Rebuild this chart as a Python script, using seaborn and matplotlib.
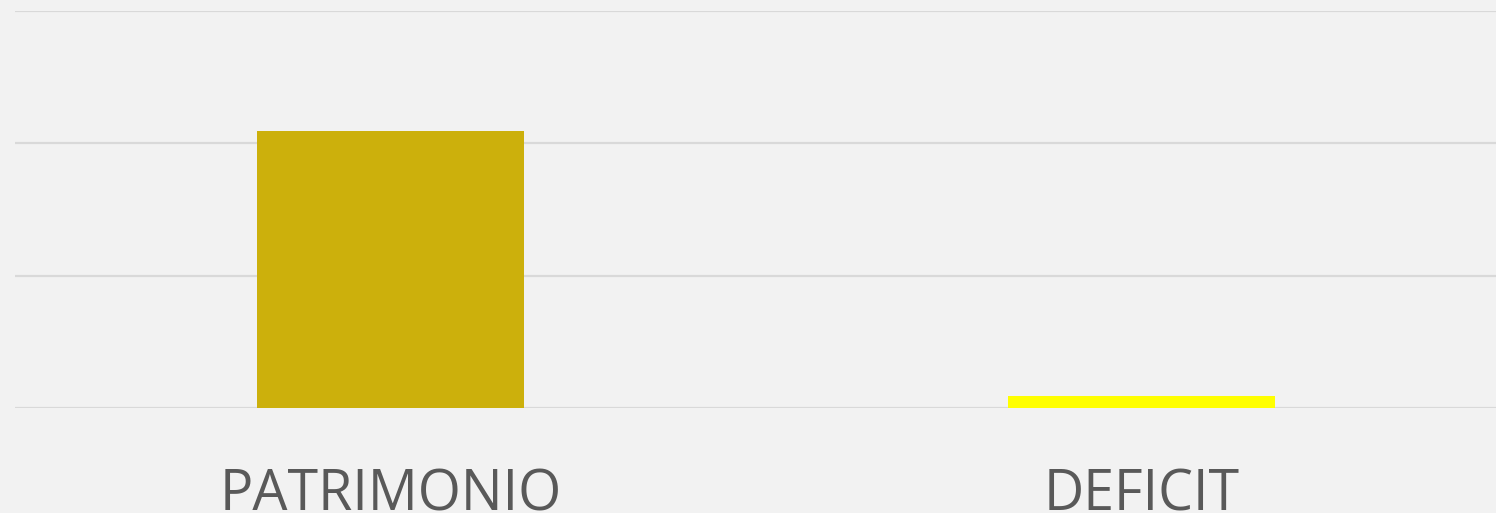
import matplotlib
matplotlib.use("Agg")
import matplotlib.pyplot as plt
import seaborn as sns
import pandas as pd

# values (gridline step = 1 unit)
categories = ["PATRIMONIO", "DEFICIT"]
values = [2.09, 0.09]
bar_colors = ["#CCB00C", "#FFFF00"]

df = pd.DataFrame({"categoria": categories, "valor": values})

sns.set_theme(style="white")
plt.rcParams["font.family"] = ["Open Sans", "DejaVu Sans"]

fig = plt.figure(figsize=(14.96, 5.13), dpi=100, facecolor="#F2F2F2")
# axes runs past the right edge, like the cropped original
ax = fig.add_axes([15 / 1496, 105 / 513, 1502 / 1496, 397 / 513])
ax.set_facecolor("#F2F2F2")

sns.barplot(data=df, x="categoria", y="valor", hue="categoria",
            palette=bar_colors, width=0.356, saturation=1, linewidth=0,
            legend=False, ax=ax)

ax.set_xlim(-0.5, 1.5)
ax.set_ylim(0, 3)
ax.set_yticks([0, 1, 2, 3])
ax.yaxis.grid(True, color="#D9D9D9", linewidth=1.6)
ax.set_axisbelow(True)
ax.tick_params(axis="y", left=False, labelleft=False)
ax.tick_params(axis="x", bottom=False, labelsize=40, labelcolor="#595959", pad=37)
ax.set_xlabel("")
ax.set_ylabel("")
for s in ax.spines.values():
    s.set_visible(False)

fig.savefig("out.png", dpi=100, facecolor=fig.get_facecolor())
